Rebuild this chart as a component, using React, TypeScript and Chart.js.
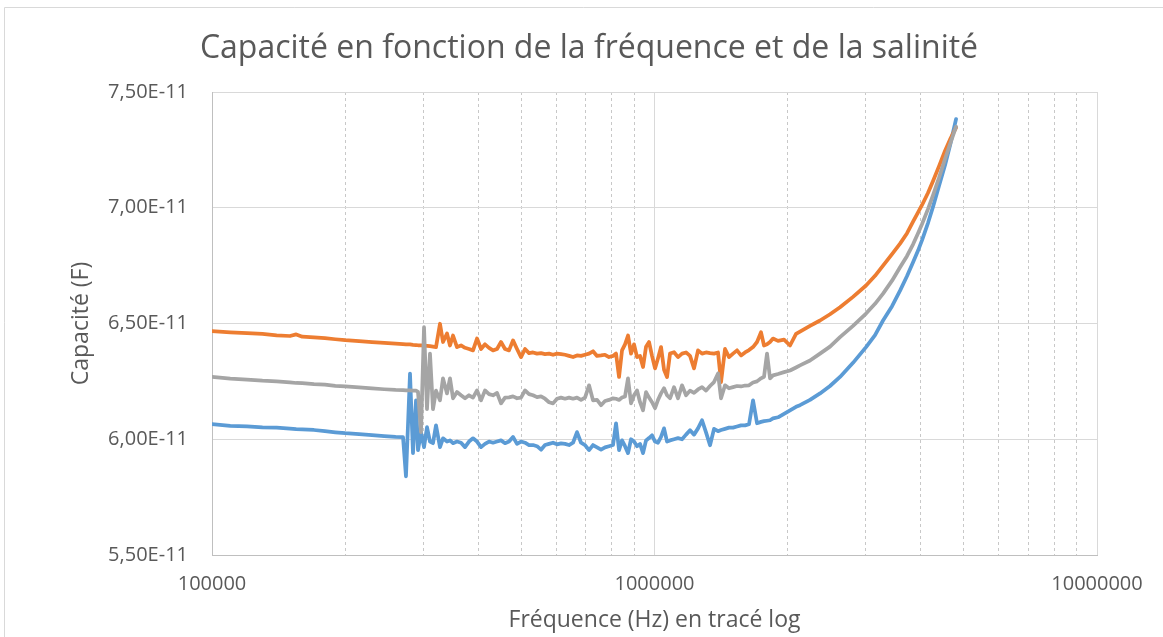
import React, { useEffect, useRef } from "react";
import { Chart, registerables } from "chart.js";

Chart.register(...registerables);

// Frequencies (Hz), shared by the three series
const frequencies = [
  100000, 110000, 120000, 130000, 140000, 150000, 155000, 160000, 170000, 180000,
  190000, 200000, 215000, 230000, 245000, 260000, 270200, 274400, 280200, 284600,
  289100, 292100, 296700, 301400, 306100, 310900, 315800, 320800, 327500, 332700,
  339700, 345000, 350500, 357800, 365400, 373100, 380900, 388900, 397100, 405500,
  414000, 422700, 431600, 440700, 449900, 459400, 469100, 478900, 489000, 499300,
  509800, 520500, 531500, 542600, 554100, 565700, 577600, 589800, 602200, 614800,
  627800, 641000, 654500, 668200, 682300, 696600, 711300, 726200, 741500, 757100,
  773000, 789300, 805900, 818600, 831500, 844500, 857800, 871300, 885000, 899000,
  913100, 927500, 942100, 956900, 971900, 987200, 1002800, 1018500, 1034600, 1050900,
  1067400, 1084200, 1107000, 1130300, 1154000, 1178300, 1203100, 1228400, 1254200, 1280600,
  1307500, 1335000, 1363100, 1391800, 1413700, 1443400, 1473700, 1504700, 1536400, 1568700,
  1601700, 1635400, 1669800, 1704900, 1740800, 1768100, 1795900, 1824200, 1852900, 1901800,
  1962100, 2024300, 2088500, 2132200, 2246200, 2366200, 2492500, 2625700, 2809400, 3006500,
  3150600, 3284600, 3442000, 3588600, 3721700, 3839800, 3941000, 4024000, 4151500, 4260900,
  4396000, 4535600, 4655100, 4802700,
];

const capacityOrange = [
  6.467e-11, 6.462e-11, 6.458e-11, 6.455e-11, 6.449e-11, 6.446e-11, 6.453e-11, 6.443e-11, 6.44e-11, 6.437e-11,
  6.432e-11, 6.428e-11, 6.424e-11, 6.42e-11, 6.416e-11, 6.413e-11, 6.411e-11, 6.41e-11, 6.41e-11, 6.408e-11,
  6.407e-11, 6.406e-11, 6.405e-11, 6.404e-11, 6.403e-11, 6.402e-11, 6.4e-11, 6.398e-11, 6.499e-11, 6.42e-11,
  6.457e-11, 6.405e-11, 6.448e-11, 6.398e-11, 6.405e-11, 6.395e-11, 6.39e-11, 6.384e-11, 6.435e-11, 6.39e-11,
  6.41e-11, 6.395e-11, 6.384e-11, 6.39e-11, 6.42e-11, 6.39e-11, 6.384e-11, 6.427e-11, 6.39e-11, 6.355e-11,
  6.39e-11, 6.372e-11, 6.375e-11, 6.37e-11, 6.372e-11, 6.368e-11, 6.37e-11, 6.365e-11, 6.37e-11, 6.368e-11,
  6.365e-11, 6.36e-11, 6.355e-11, 6.362e-11, 6.36e-11, 6.365e-11, 6.37e-11, 6.38e-11, 6.36e-11, 6.362e-11,
  6.365e-11, 6.355e-11, 6.36e-11, 6.37e-11, 6.269e-11, 6.384e-11, 6.41e-11, 6.448e-11, 6.37e-11, 6.41e-11,
  6.355e-11, 6.36e-11, 6.312e-11, 6.4e-11, 6.42e-11, 6.36e-11, 6.306e-11, 6.35e-11, 6.398e-11, 6.3e-11,
  6.269e-11, 6.37e-11, 6.376e-11, 6.355e-11, 6.37e-11, 6.375e-11, 6.36e-11, 6.306e-11, 6.384e-11, 6.37e-11,
  6.375e-11, 6.372e-11, 6.37e-11, 6.375e-11, 6.247e-11, 6.39e-11, 6.355e-11, 6.37e-11, 6.384e-11, 6.362e-11,
  6.375e-11, 6.385e-11, 6.398e-11, 6.42e-11, 6.462e-11, 6.405e-11, 6.41e-11, 6.42e-11, 6.435e-11, 6.425e-11,
  6.43e-11, 6.405e-11, 6.455e-11, 6.465e-11, 6.49e-11, 6.513e-11, 6.54e-11, 6.57e-11, 6.615e-11, 6.664e-11,
  6.706e-11, 6.75e-11, 6.8e-11, 6.845e-11, 6.89e-11, 6.94e-11, 6.98e-11, 7.012e-11, 7.065e-11, 7.116e-11,
  7.18e-11, 7.246e-11, 7.295e-11, 7.346e-11,
];

const capacityGray = [
  6.269e-11, 6.262e-11, 6.258e-11, 6.253e-11, 6.25e-11, 6.246e-11, 6.243e-11, 6.242e-11, 6.238e-11, 6.236e-11,
  6.231e-11, 6.228e-11, 6.224e-11, 6.22e-11, 6.216e-11, 6.213e-11, 6.212e-11, 6.211e-11, 6.211e-11, 6.21e-11,
  6.21e-11, 6.205e-11, 6.031e-11, 6.484e-11, 6.13e-11, 6.37e-11, 6.13e-11, 6.21e-11, 6.168e-11, 6.263e-11,
  6.198e-11, 6.263e-11, 6.177e-11, 6.204e-11, 6.19e-11, 6.177e-11, 6.19e-11, 6.18e-11, 6.211e-11, 6.168e-11,
  6.211e-11, 6.195e-11, 6.19e-11, 6.2e-11, 6.155e-11, 6.18e-11, 6.181e-11, 6.185e-11, 6.177e-11, 6.18e-11,
  6.211e-11, 6.195e-11, 6.19e-11, 6.182e-11, 6.185e-11, 6.175e-11, 6.16e-11, 6.155e-11, 6.175e-11, 6.18e-11,
  6.175e-11, 6.18e-11, 6.175e-11, 6.18e-11, 6.17e-11, 6.18e-11, 6.233e-11, 6.168e-11, 6.17e-11, 6.147e-11,
  6.165e-11, 6.17e-11, 6.177e-11, 6.175e-11, 6.17e-11, 6.18e-11, 6.185e-11, 6.263e-11, 6.155e-11, 6.19e-11,
  6.211e-11, 6.16e-11, 6.125e-11, 6.204e-11, 6.18e-11, 6.16e-11, 6.134e-11, 6.17e-11, 6.198e-11, 6.22e-11,
  6.19e-11, 6.177e-11, 6.225e-11, 6.177e-11, 6.233e-11, 6.19e-11, 6.21e-11, 6.2e-11, 6.215e-11, 6.225e-11,
  6.21e-11, 6.23e-11, 6.247e-11, 6.284e-11, 6.177e-11, 6.233e-11, 6.22e-11, 6.225e-11, 6.23e-11, 6.228e-11,
  6.232e-11, 6.233e-11, 6.245e-11, 6.25e-11, 6.263e-11, 6.27e-11, 6.37e-11, 6.263e-11, 6.276e-11, 6.282e-11,
  6.29e-11, 6.297e-11, 6.31e-11, 6.319e-11, 6.34e-11, 6.37e-11, 6.4e-11, 6.441e-11, 6.49e-11, 6.543e-11,
  6.585e-11, 6.629e-11, 6.685e-11, 6.743e-11, 6.792e-11, 6.842e-11, 6.89e-11, 6.93e-11, 6.995e-11, 7.055e-11,
  7.13e-11, 7.211e-11, 7.275e-11, 7.35e-11,
];

const capacityBlue = [
  6.065e-11, 6.058e-11, 6.056e-11, 6.051e-11, 6.05e-11, 6.046e-11, 6.044e-11, 6.043e-11, 6.04e-11, 6.035e-11,
  6.03e-11, 6.026e-11, 6.022e-11, 6.018e-11, 6.014e-11, 6.01e-11, 6.009e-11, 5.84e-11, 6.284e-11, 5.94e-11,
  6.168e-11, 5.953e-11, 6.03e-11, 5.966e-11, 6.052e-11, 5.99e-11, 5.983e-11, 6.06e-11, 5.966e-11, 6.004e-11,
  5.99e-11, 5.995e-11, 5.983e-11, 5.99e-11, 5.985e-11, 5.966e-11, 5.99e-11, 6.004e-11, 5.99e-11, 5.966e-11,
  5.98e-11, 5.99e-11, 5.985e-11, 5.99e-11, 5.995e-11, 5.983e-11, 5.99e-11, 6.01e-11, 5.98e-11, 5.99e-11,
  5.985e-11, 5.975e-11, 5.975e-11, 5.97e-11, 5.955e-11, 5.975e-11, 5.98e-11, 5.985e-11, 5.978e-11, 5.982e-11,
  5.98e-11, 5.975e-11, 5.985e-11, 6.031e-11, 5.985e-11, 5.975e-11, 5.953e-11, 5.975e-11, 5.965e-11, 5.955e-11,
  5.965e-11, 5.97e-11, 5.975e-11, 6.069e-11, 5.953e-11, 5.995e-11, 5.97e-11, 5.94e-11, 6.0e-11, 5.99e-11,
  5.97e-11, 5.98e-11, 5.94e-11, 5.995e-11, 6.005e-11, 6.017e-11, 5.99e-11, 5.985e-11, 6.01e-11, 6.047e-11,
  5.99e-11, 5.995e-11, 6.0e-11, 6.005e-11, 6.0e-11, 6.02e-11, 6.039e-11, 6.02e-11, 6.047e-11, 6.082e-11,
  6.03e-11, 5.974e-11, 6.045e-11, 6.035e-11, 6.04e-11, 6.045e-11, 6.05e-11, 6.05e-11, 6.055e-11, 6.06e-11,
  6.06e-11, 6.065e-11, 6.168e-11, 6.069e-11, 6.075e-11, 6.078e-11, 6.08e-11, 6.082e-11, 6.09e-11, 6.095e-11,
  6.11e-11, 6.125e-11, 6.14e-11, 6.147e-11, 6.17e-11, 6.198e-11, 6.23e-11, 6.269e-11, 6.33e-11, 6.398e-11,
  6.45e-11, 6.513e-11, 6.575e-11, 6.642e-11, 6.705e-11, 6.765e-11, 6.815e-11, 6.86e-11, 6.935e-11, 7.005e-11,
  7.095e-11, 7.185e-11, 7.27e-11, 7.383e-11,
];

const xTicks = [
  100000, 200000, 300000, 400000, 500000, 600000, 700000, 800000, 900000,
  1000000, 2000000, 3000000, 4000000, 5000000, 6000000, 7000000, 8000000, 9000000,
  10000000,
];
const xLabelTicks = [100000, 1000000, 10000000];
const yTicks = [5.5e-11, 6.0e-11, 6.5e-11, 7.0e-11, 7.5e-11];

const TEXT = "#595959";
const FONT = "'Open Sans', 'DejaVu Sans', sans-serif";

const isDecade = (v: any) => xLabelTicks.includes(v);

const framePlugin = {
  id: "frame",
  beforeDraw(chart: any) {
    const c = chart.ctx;
    c.save();
    c.strokeStyle = "#D9D9D9";
    c.lineWidth = 1;
    c.beginPath();
    c.moveTo(4.5, 640);
    c.lineTo(4.5, 7.5);
    c.lineTo(1163, 7.5);
    c.stroke();
    c.restore();
  },
};

export default function App() {
  const ref = useRef<HTMLCanvasElement | null>(null);

  useEffect(() => {
    if (!ref.current) return;
    const common = {
      borderWidth: 3.75,
      pointRadius: 0,
      tension: 0,
      fill: false,
      borderJoinStyle: "round" as const,
      borderCapStyle: "round" as const,
    };
    const chart = new Chart(ref.current, {
      type: "line",
      data: {
        datasets: [
          {
            label: "Série 1",
            data: frequencies.map((f, i) => ({ x: f, y: capacityBlue[i] })),
            borderColor: "#5B9BD5",
            backgroundColor: "#5B9BD5",
            order: 3,
            ...common,
          },
          {
            label: "Série 2",
            data: frequencies.map((f, i) => ({ x: f, y: capacityOrange[i] })),
            borderColor: "#ED7D31",
            backgroundColor: "#ED7D31",
            order: 2,
            ...common,
          },
          {
            label: "Série 3",
            data: frequencies.map((f, i) => ({ x: f, y: capacityGray[i] })),
            borderColor: "#A5A5A5",
            backgroundColor: "#A5A5A5",
            order: 1,
            ...common,
          },
        ],
      },
      options: {
        responsive: false,
        animation: false,
        devicePixelRatio: 1,
        layout: { padding: { left: 15, right: 0, top: 0, bottom: 0 } },
        plugins: {
          legend: { display: false },
          tooltip: { enabled: false },
          title: {
            display: true,
            text: "Capacité en fonction de la fréquence et de la salinité",
            color: TEXT,
            font: { family: FONT, size: 32, weight: "normal" },
            padding: { top: 30, bottom: 23.6 },
          },
        },
        scales: {
          x: {
            type: "logarithmic",
            position: "bottom",
            min: 100000,
            max: 10000000,
            afterBuildTicks: (s: any) => {
              s.ticks = xTicks.map((v) => ({ value: v }));
            },
            afterFit: (s: any) => {
              s.height = 82;
            },
            ticks: {
              autoSkip: false,
              maxRotation: 0,
              minRotation: 0,
              padding: 17,
              color: TEXT,
              font: { family: FONT, size: 20 },
              callback: (v: any) => (isDecade(v) ? String(v) : ""),
            },
            grid: {
              drawTicks: false,
              lineWidth: 1,
              color: (ctx: any) =>
                ctx.tick && isDecade(ctx.tick.value) ? "#D9D9D9" : "#C8C8C8",
            },
            border: {
              color: "#BFBFBF",
              width: 1,
              dash: (ctx: any) =>
                ctx.tick && !isDecade(ctx.tick.value) ? [3, 3] : [],
            },
            title: {
              display: true,
              text: "Fréquence (Hz) en tracé log",
              color: TEXT,
              font: { family: FONT, size: 23 },
              padding: { top: 0, bottom: 3 },
            },
          },
          y: {
            type: "linear",
            position: "left",
            min: 5.5e-11,
            max: 7.5e-11,
            afterBuildTicks: (s: any) => {
              s.ticks = yTicks.map((v) => ({ value: v }));
            },
            afterFit: (s: any) => {
              s.width = 197;
            },
            ticks: {
              padding: 24,
              color: TEXT,
              font: { family: FONT, size: 20 },
              callback: (v: any) =>
                (Number(v) * 1e11).toFixed(2).replace(".", ",") + "E-11",
            },
            grid: { drawTicks: false, color: "#D9D9D9", lineWidth: 1 },
            border: { color: "#BFBFBF", width: 1 },
            title: {
              display: true,
              text: "Capacité (F)",
              color: TEXT,
              font: { family: FONT, size: 23 },
              padding: { top: 53, bottom: 0 },
            },
          },
          yRight: {
            type: "linear",
            position: "right",
            display: true,
            afterFit: (s: any) => {
              s.width = 66;
            },
            ticks: { display: false },
            grid: { display: false, drawTicks: false },
            border: { display: false },
          },
        },
      } as any,
      plugins: [framePlugin],
    });
    return () => chart.destroy();
  }, []);

  return (
    <div style={{ position: "absolute", left: 0, top: 0, width: 1163, height: 637, background: "#fff" }}>
      <canvas ref={ref} width={1163} height={637} style={{ display: "block" }} />
    </div>
  );
}
